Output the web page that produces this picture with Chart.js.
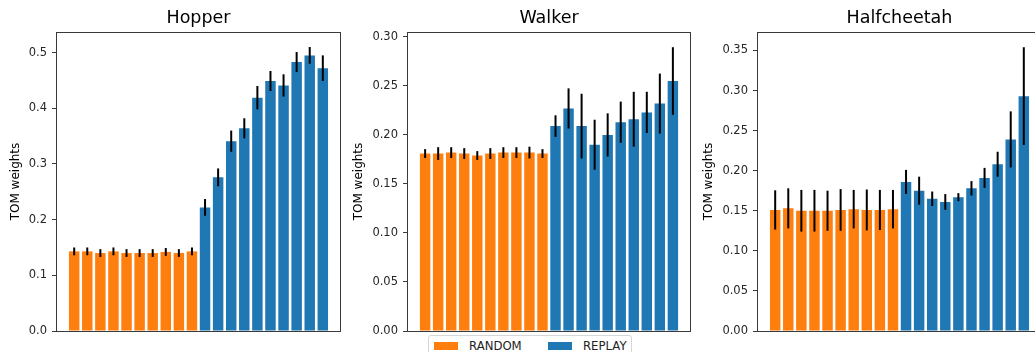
<!DOCTYPE html>
<html>
<head>
<meta charset="utf-8">
<script src="https://cdn.jsdelivr.net/npm/chart.js@4/dist/chart.umd.min.js"></script>
<style>
  html, body { margin: 0; padding: 0; background: #fff; overflow: hidden; }
  body { width: 1035px; height: 352px; position: relative; }
  canvas { position: absolute; top: 0; }
  #legend {
    position: absolute; left: 428px; top: 335px; width: 202px; height: 26px;
    border: 1px solid #d6d6d6; border-radius: 3px; background: #fff;
    font-family: "DejaVu Sans"; font-size: 11.7px; color: #222;
  }
  #legend .patch { position: absolute; top: 6px; width: 24px; height: 8px; }
  #legend .lbl { position: absolute; top: 3px; line-height: 14px; }
</style>
</head>
<body>
<canvas id="hopper" width="345" height="352" style="left:0px"></canvas>
<canvas id="walker" width="345" height="352" style="left:350px"></canvas>
<canvas id="halfcheetah" width="346" height="352" style="left:700px"></canvas>
<div id="legend"></div>
<script>
// series names and colours
const seriesNames = ["RANDOM", "REPLAY"];
const seriesColors = ["#ff7f0e", "#1f77b4"];

// Hopper
const hopperRandom = [0.143, 0.143, 0.140, 0.143, 0.140, 0.140, 0.140, 0.142, 0.140, 0.143];
const hopperRandomErr = [0.007, 0.007, 0.007, 0.007, 0.007, 0.007, 0.007, 0.007, 0.007, 0.007];
const hopperReplay = [0.222, 0.276, 0.341, 0.364, 0.419, 0.449, 0.441, 0.483, 0.495, 0.472];
const hopperReplayErr = [0.015, 0.016, 0.019, 0.018, 0.021, 0.018, 0.020, 0.018, 0.015, 0.023];
const hopperTicks = ["0.0", "0.1", "0.2", "0.3", "0.4", "0.5"];

// Walker
const walkerRandom = [0.181, 0.181, 0.182, 0.181, 0.179, 0.181, 0.182, 0.182, 0.182, 0.181];
const walkerRandomErr = [0.0045, 0.0065, 0.0055, 0.0055, 0.0045, 0.0055, 0.0055, 0.0055, 0.006, 0.0045];
const walkerReplay = [0.209, 0.227, 0.209, 0.190, 0.200, 0.213, 0.216, 0.223, 0.232, 0.255];
const walkerReplayErr = [0.011, 0.0205, 0.033, 0.0255, 0.022, 0.021, 0.028, 0.021, 0.0306, 0.0345];
const walkerTicks = ["0.00", "0.05", "0.10", "0.15", "0.20", "0.25", "0.30"];

// Halfcheetah
const cheetahRandom = [0.151, 0.153, 0.150, 0.150, 0.150, 0.151, 0.152, 0.151, 0.151, 0.152];
const cheetahRandomErr = [0.0245, 0.025, 0.026, 0.026, 0.025, 0.026, 0.024, 0.0255, 0.025, 0.024];
const cheetahReplay = [0.186, 0.175, 0.165, 0.161, 0.167, 0.178, 0.191, 0.208, 0.239, 0.293];
const cheetahReplayErr = [0.015, 0.0175, 0.009, 0.0098, 0.005, 0.009, 0.0125, 0.0156, 0.035, 0.061];
const cheetahTicks = ["0.00", "0.05", "0.10", "0.15", "0.20", "0.25", "0.30", "0.35"];

const FONT = "DejaVu Sans";

// black error bars, drawn through the y scale
const errorBars = {
  id: "errorBars",
  afterDatasetsDraw(chart) {
    const ctx = chart.ctx;
    const y = chart.scales.y;
    ctx.save();
    ctx.strokeStyle = "#000";
    ctx.lineWidth = 2;
    chart.data.datasets.forEach((ds, i) => {
      chart.getDatasetMeta(i).data.forEach((bar, j) => {
        const v = ds.data[j].y, e = ds.errors[j];
        ctx.beginPath();
        ctx.moveTo(bar.x, y.getPixelForValue(v - e));
        ctx.lineTo(bar.x, y.getPixelForValue(v + e));
        ctx.stroke();
      });
    });
    ctx.restore();
  }
};

// axes frame (all four spines)
const frame = {
  id: "frame",
  afterDraw(chart) {
    const a = chart.chartArea, ctx = chart.ctx;
    ctx.save();
    ctx.strokeStyle = "#3a3a3a";
    ctx.lineWidth = 1;
    ctx.strokeRect(Math.round(a.left) + 0.5, Math.round(a.top) + 0.5,
      Math.round(a.right - a.left) - 1, Math.round(a.bottom - a.top));
    ctx.restore();
  }
};

function makeChart(id, title, random, randomErr, replay, replayErr, ticks, yMax, axisWidth, titlePad) {
  const n = random.length;
  return new Chart(document.getElementById(id), {
    type: "bar",
    data: {
      datasets: [
        {
          label: seriesNames[0],
          data: random.map((v, i) => ({ x: i, y: v })),
          errors: randomErr,
          backgroundColor: seriesColors[0],
          grouped: false,
          categoryPercentage: 1,
          barPercentage: 0.8
        },
        {
          label: seriesNames[1],
          data: replay.map((v, i) => ({ x: n + i, y: v })),
          errors: replayErr,
          backgroundColor: seriesColors[1],
          grouped: false,
          categoryPercentage: 1,
          barPercentage: 0.8
        }
      ]
    },
    options: {
      responsive: false,
      animation: false,
      layout: { padding: { left: 0, right: 4, top: 0, bottom: 21 } },
      plugins: {
        legend: { display: false },
        tooltip: { enabled: false },
        title: {
          display: true,
          text: title,
          fullSize: false,
          color: "#000",
          font: { family: FONT, size: 17.5, weight: "normal" },
          padding: { top: 8, bottom: 3 }
        }
      },
      scales: {
        x: {
          type: "linear",
          offset: false,
          min: -1.39,
          max: 2 * n - 1 + 1.39,
          display: false
        },
        y: {
          min: 0,
          max: yMax,
          border: { display: false },
          grid: { drawOnChartArea: false, drawTicks: true, tickLength: 4, color: "#3a3a3a" },
          ticks: {
            color: "#262626",
            padding: 5,
            font: { family: FONT, size: 11.5 },
            callback: (v, i) => ticks[i]
          },
          afterBuildTicks: (scale) => {
            scale.ticks = ticks.map((s) => ({ value: parseFloat(s) }));
          },
          afterFit: (scale) => { scale.width = axisWidth; },
          title: {
            display: true,
            text: "TOM weights",
            color: "#000",
            font: { family: FONT, size: 12 },
            padding: { top: titlePad, bottom: 0 }
          }
        }
      }
    },
    plugins: [errorBars, frame]
  });
}

makeChart("hopper", "Hopper", hopperRandom, hopperRandomErr, hopperReplay, hopperReplayErr, hopperTicks, 0.537, 56, 9);
makeChart("walker", "Walker", walkerRandom, walkerRandomErr, walkerReplay, walkerReplayErr, walkerTicks, 0.305, 57, 2);
makeChart("halfcheetah", "Halfcheetah", cheetahRandom, cheetahRandomErr, cheetahReplay, cheetahReplayErr, cheetahTicks, 0.373, 57, 2);

// legend under the middle panel
const legend = document.getElementById("legend");
const patchLeft = [5, 119], textLeft = [40, 154];
seriesNames.forEach((name, i) => {
  const p = document.createElement("div");
  p.className = "patch";
  p.style.left = patchLeft[i] + "px";
  p.style.background = seriesColors[i];
  legend.appendChild(p);
  const t = document.createElement("div");
  t.className = "lbl";
  t.style.left = textLeft[i] + "px";
  t.textContent = name;
  legend.appendChild(t);
});
</script>
</body>
</html>
